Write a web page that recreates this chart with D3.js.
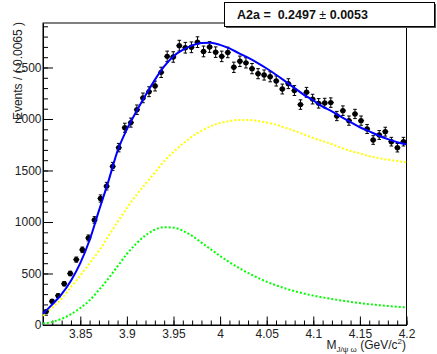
<!DOCTYPE html>
<html>
<head>
<meta charset="utf-8">
<script src="https://cdn.jsdelivr.net/npm/d3@7/dist/d3.min.js"></script>
<style>
  html, body { margin: 0; padding: 0; background: #fff; }
  svg { display: block; font-family: "Liberation Sans", Arial, sans-serif; }
</style>
</head>
<body>
<svg id="canvas" width="437" height="354"></svg>
<script>
'use strict';

/* histogram: 60 bins of 0.0065 GeV between 3.81 and 4.2 */
const binLow = 3.81;
const binWidth = 0.0065;
const counts = [
  130, 230, 285, 400, 500, 635, 730, 845, 1020, 1228,
  1348, 1540, 1722, 1915, 1965, 2090, 2205, 2265, 2320, 2453,
  2608, 2602, 2712, 2692, 2696, 2746, 2656, 2699, 2649, 2608,
  2646, 2502, 2560, 2545, 2489, 2440, 2427, 2410, 2369, 2291,
  2343, 2276, 2140, 2259, 2193, 2152, 2155, 2159, 2029, 2081,
  1984, 2049, 1984, 1903, 1796, 1845, 1877, 1780, 1721, 1780
];
const errors = [
  11, 15, 17, 20, 22, 25, 27, 29, 32, 35,
  37, 39, 41, 44, 44, 46, 47, 48, 48, 50,
  51, 51, 52, 52, 52, 52, 52, 52, 51, 51,
  51, 50, 51, 50, 50, 49, 49, 49, 49, 48,
  48, 48, 46, 48, 47, 46, 46, 46, 45, 46,
  45, 45, 45, 44, 42, 43, 43, 42, 41, 42
];

/* fit components, every 0.01 GeV */
const curveX = [
  3.81, 3.82, 3.83, 3.84, 3.85, 3.86, 3.87, 3.88, 3.89, 3.90,
  3.91, 3.92, 3.93, 3.94, 3.95, 3.96, 3.97, 3.98, 3.99, 4.00,
  4.01, 4.02, 4.03, 4.04, 4.05, 4.06, 4.07, 4.08, 4.09, 4.10,
  4.11, 4.12, 4.13, 4.14, 4.15, 4.16, 4.17, 4.18, 4.19, 4.20
];
const totalFit = [
  110, 200, 300, 430, 600, 825, 1110, 1390, 1690, 1900,
  2070, 2230, 2380, 2510, 2610, 2670, 2715, 2738, 2740, 2720,
  2685, 2640, 2595, 2545, 2490, 2430, 2365, 2300, 2235, 2180,
  2120, 2075, 2020, 1970, 1920, 1880, 1840, 1805, 1775, 1755
];
const yellowComp = [
  90, 170, 255, 370, 480, 600, 720, 860, 1000, 1135,
  1260, 1370, 1480, 1590, 1680, 1760, 1830, 1885, 1930, 1960,
  1980, 1990, 1990, 1982, 1965, 1945, 1915, 1885, 1850, 1815,
  1785, 1755, 1720, 1690, 1665, 1640, 1620, 1605, 1592, 1580
];
const greenComp = [
  15, 30, 60, 105, 165, 240, 340, 450, 570, 690,
  790, 870, 925, 950, 945, 915, 865, 800, 735, 670,
  610, 555, 505, 460, 420, 385, 355, 328, 305, 285,
  268, 252, 238, 225, 213, 202, 193, 185, 177, 170
];

const xTicks = [3.85, 3.9, 3.95, 4, 4.05, 4.1, 4.15, 4.2];
const yTicks = [0, 500, 1000, 1500, 2000, 2500];
const xMinor = d3.range(382, 421).map(d => d / 100);
const yMinor = d3.range(0, 2901, 100);

const statsLabel = 'A2a = ';
const statsValue = '0.2497';
const statsError = '0.0053';

/* frame */
const frame = { left: 43, right: 406.5, top: 23, bottom: 325 };
const X = d3.scaleLinear().domain([3.81, 4.2]).range([frame.left, frame.right]);
const Y = d3.scaleLinear().domain([0, 2932]).range([frame.bottom, frame.top]);

const svg = d3.select('#canvas');
const g = svg.append('g');

g.append('rect')
  .attr('x', frame.left).attr('y', frame.top)
  .attr('width', frame.right - frame.left).attr('height', frame.bottom - frame.top)
  .attr('fill', '#fff').attr('stroke', '#000').attr('stroke-width', 1);

/* x axis, ticks pointing inside */
g.append('g')
  .attr('transform', 'translate(0,' + frame.bottom + ')')
  .call(d3.axisBottom(X).tickValues(xTicks).tickSizeInner(-8.5).tickSizeOuter(0)
    .tickPadding(4).tickFormat(d => String(+d.toFixed(2))));
g.append('g')
  .attr('transform', 'translate(0,' + frame.bottom + ')')
  .call(d3.axisBottom(X).tickValues(xMinor).tickSizeInner(-4.5).tickSizeOuter(0).tickFormat(''))
  .select('.domain').remove();

/* y axis */
g.append('g')
  .attr('transform', 'translate(' + frame.left + ',0)')
  .call(d3.axisLeft(Y).tickValues(yTicks).tickSizeInner(-10).tickSizeOuter(0)
    .tickPadding(1.5).tickFormat(d3.format('d')));
g.append('g')
  .attr('transform', 'translate(' + frame.left + ',0)')
  .call(d3.axisLeft(Y).tickValues(yMinor).tickSizeInner(-5).tickSizeOuter(0).tickFormat(''))
  .select('.domain').remove();

g.selectAll('.tick line').attr('stroke', '#000');
g.selectAll('.domain').attr('stroke', '#000');
g.selectAll('.tick text')
  .attr('fill', '#222')
  .style('font-size', '12px')
  .style('font-family', '"Liberation Sans", Arial, sans-serif');

/* axis titles */
g.append('text')
  .attr('transform', 'translate(22,22) rotate(-90)')
  .attr('text-anchor', 'end')
  .attr('fill', '#222')
  .style('font-size', '12px')
  .text('Events / ( 0.0065 )');

const xTitle = g.append('text')
  .attr('x', 406).attr('y', 349)
  .attr('text-anchor', 'end')
  .attr('fill', '#222')
  .style('font-size', '12px');
xTitle.append('tspan').text('M');
xTitle.append('tspan').attr('dy', 3).style('font-size', '8px').text('J/\u03C8 \u03C9');
xTitle.append('tspan').attr('dy', -3).text(' (GeV/c');
xTitle.append('tspan').attr('dy', -5).style('font-size', '8px').text('2');
xTitle.append('tspan').attr('dy', 5).text(')');

/* fit curves */
const pts = ys => curveX.map((x, i) => [x, ys[i]]);
const line = d3.line().x(d => X(d[0])).y(d => Y(d[1])).curve(d3.curveMonotoneX);

g.append('path').datum(pts(yellowComp))
  .attr('d', line).attr('fill', 'none')
  .attr('stroke', '#ffff00').attr('stroke-width', 2).attr('stroke-dasharray', '2,2');
g.append('path').datum(pts(greenComp))
  .attr('d', line).attr('fill', 'none')
  .attr('stroke', '#00ff00').attr('stroke-width', 2).attr('stroke-dasharray', '2,2');

/* data points with error bars */
const data = counts.map((c, i) => ({
  lo: binLow + i * binWidth,
  x: binLow + (i + 0.5) * binWidth,
  y: c,
  e: errors[i]
}));
const points = g.append('g').attr('id', 'points');
const pt = points.selectAll('g').data(data).enter().append('g');
pt.append('line')
  .attr('x1', d => X(d.lo)).attr('x2', d => X(d.lo + binWidth))
  .attr('y1', d => Y(d.y)).attr('y2', d => Y(d.y))
  .attr('stroke', '#000').attr('stroke-width', 1);
pt.append('line')
  .attr('x1', d => X(d.x)).attr('x2', d => X(d.x))
  .attr('y1', d => Y(d.y - d.e)).attr('y2', d => Y(d.y + d.e))
  .attr('stroke', '#000').attr('stroke-width', 1);
[-1, 1].forEach(s => {
  pt.append('line')
    .attr('x1', d => X(d.x) - 1.8).attr('x2', d => X(d.x) + 1.8)
    .attr('y1', d => Y(d.y + s * d.e)).attr('y2', d => Y(d.y + s * d.e))
    .attr('stroke', '#000').attr('stroke-width', 1);
});
pt.append('circle')
  .attr('cx', d => X(d.x)).attr('cy', d => Y(d.y))
  .attr('r', 2.7).attr('fill', '#000');

g.append('path').datum(pts(totalFit))
  .attr('d', line).attr('fill', 'none')
  .attr('stroke', '#0000ff').attr('stroke-width', 2);

/* stats box */
const box = svg.append('g');
box.append('rect')
  .attr('x', 226).attr('y', 4).attr('width', 210).attr('height', 24)
  .attr('fill', '#555');
box.append('rect')
  .attr('x', 224.5).attr('y', 2.5).attr('width', 210).attr('height', 24)
  .attr('fill', '#fff').attr('stroke', '#000').attr('stroke-width', 1);
const st = box.append('text')
  .attr('x', 237).attr('y', 19)
  .attr('fill', '#111')
  .style('font-size', '12.5px').style('font-weight', 'bold');
st.append('tspan').text(statsLabel + '\u00A0' + statsValue + ' ');
st.append('tspan').style('font-weight', 'normal').text('\u00B1');
st.append('tspan').text(' ' + statsError);
</script>
</body>
</html>
